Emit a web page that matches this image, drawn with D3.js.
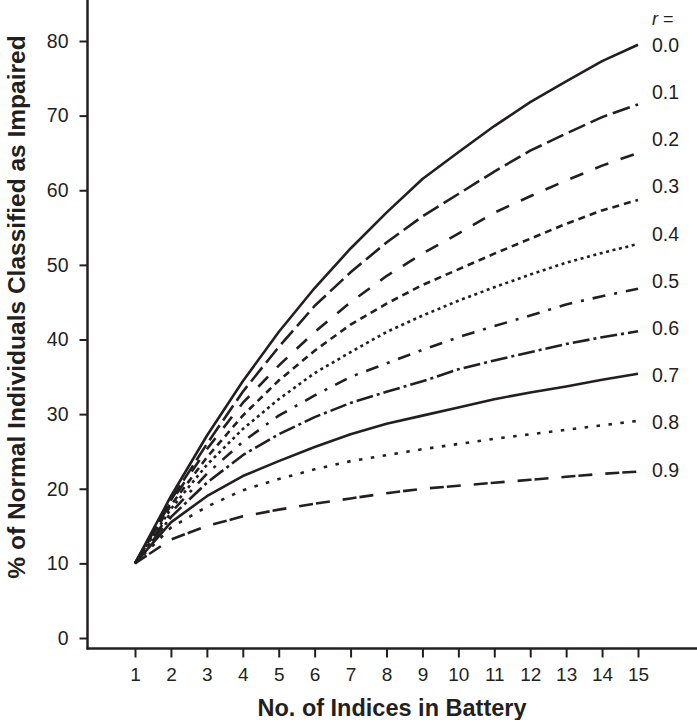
<!DOCTYPE html>
<html>
<head>
<meta charset="utf-8">
<script src="https://cdn.jsdelivr.net/npm/d3@7"></script>
<style>
  html, body { margin: 0; padding: 0; background: #fff; }
  svg { display: block; }
  text { font-family: "Liberation Sans", Arial, Helvetica, sans-serif; fill: #231f20; }
</style>
</head>
<body>
<svg id="chart" width="697" height="720"></svg>
<script>
// ---- data ----
const indices = [1, 2, 3, 4, 5, 6, 7, 8, 9, 10, 11, 12, 13, 14, 15];
const rLabels = ["0.0", "0.1", "0.2", "0.3", "0.4", "0.5", "0.6", "0.7", "0.8", "0.9"];
const r00 = [10, 19.0, 27.1, 34.4, 41.0, 46.9, 52.2, 57.0, 61.5, 65.1, 68.6, 71.8, 74.6, 77.3, 79.5];
const r01 = [10, 18.5, 26.0, 33.0, 39.0, 44.5, 49.0, 53.0, 56.5, 59.5, 62.5, 65.3, 67.6, 69.8, 71.5];
const r02 = [10, 18.2, 25.3, 31.5, 36.5, 41.0, 45.0, 48.5, 51.5, 54.2, 57.0, 59.2, 61.3, 63.3, 65.0];
const r03 = [10, 17.8, 24.2, 29.8, 34.5, 38.5, 42.0, 44.8, 47.3, 49.4, 51.5, 53.5, 55.5, 57.3, 58.7];
const r04 = [10, 17.3, 23.2, 28.0, 32.0, 35.5, 38.3, 41.0, 43.2, 45.2, 47.0, 48.7, 50.3, 51.6, 52.8];
const r05 = [10, 16.8, 22.0, 26.3, 29.8, 32.5, 35.0, 36.8, 38.6, 40.3, 41.8, 43.2, 44.7, 45.8, 46.8];
const r06 = [10, 16.2, 20.8, 24.5, 27.3, 29.6, 31.5, 33.0, 34.4, 36.0, 37.2, 38.3, 39.4, 40.3, 41.1];
const r07 = [10, 15.5, 19.0, 21.7, 23.7, 25.6, 27.3, 28.7, 29.8, 30.9, 32.0, 32.9, 33.7, 34.6, 35.4];
const r08 = [10, 14.8, 17.6, 19.8, 21.3, 22.6, 23.7, 24.5, 25.3, 26.0, 26.7, 27.3, 27.9, 28.5, 29.1];
const r09 = [10, 13.2, 15.0, 16.3, 17.2, 18.0, 18.7, 19.4, 20.0, 20.4, 20.8, 21.2, 21.6, 22.0, 22.3];
const seriesValues = [r00, r01, r02, r03, r04, r05, r06, r07, r08, r09];
const yTicks = [0, 10, 20, 30, 40, 50, 60, 70, 80];
const xTitle = "No. of Indices in Battery";
const yTitle = "% of Normal Individuals Classified as Impaired";

// ---- styles ----
const dashes = [
  null,
  "18,6",
  "14,13",
  "7,5",
  "3,3.6",
  "13,9,3,9",
  "17,4,3,4",
  null,
  "3.5,8.5",
  "14,3,14,13"
];
const ink = "#231f20";
const FONT = "Liberation Sans, Arial, sans-serif";

const svg = d3.select("#chart");
const x = d3.scaleLinear().domain([1, 15]).range([135, 638]);
const y = d3.scaleLinear().domain([0, 80]).range([638, 41]);

// axes
const yAxis = svg.append("g")
  .attr("transform", "translate(87.5,0)")
  .call(d3.axisLeft(y).tickValues(yTicks).tickSize(8).tickPadding(11).tickSizeOuter(0));
yAxis.select(".domain").remove();
yAxis.selectAll(".tick line").attr("stroke", ink).attr("stroke-width", 2);
yAxis.selectAll(".tick text").style("font-size", "19.5px").attr("fill", ink).style("font-family", FONT);

const xAxis = svg.append("g")
  .attr("transform", "translate(0,648.5)")
  .call(d3.axisBottom(x).tickValues(indices).tickSize(9).tickPadding(10).tickSizeOuter(0));
xAxis.select(".domain").remove();
xAxis.selectAll(".tick line").attr("stroke", ink).attr("stroke-width", 2);
xAxis.selectAll(".tick text").style("font-size", "19px").attr("fill", ink).style("font-family", FONT);

// axis lines
svg.append("line").attr("x1", 87.5).attr("x2", 87.5).attr("y1", 0).attr("y2", 649.5)
  .attr("stroke", ink).attr("stroke-width", 2.5);
svg.append("line").attr("x1", 86.5).attr("x2", 697).attr("y1", 648.5).attr("y2", 648.5)
  .attr("stroke", ink).attr("stroke-width", 2.5);

// lines
const line = d3.line().x((d, i) => x(indices[i])).y(d => y(d));
seriesValues.forEach((vals, k) => {
  svg.append("path")
    .datum(vals)
    .attr("d", line)
    .attr("fill", "none")
    .attr("stroke", ink)
    .attr("stroke-width", 2.6)
    .attr("stroke-linejoin", "round")
    .attr("stroke-dasharray", dashes[k]);
});

// right labels
const lab = svg.append("g");
lab.append("text").attr("x", 652).attr("y", 19).attr("dy", "0.35em").style("font-size", "18px")
  .html('<tspan font-style="italic">r</tspan> =');
rLabels.forEach((t, i) => {
  lab.append("text").attr("x", 652).attr("y", 45 + i * 47.2).attr("dy", "0.35em")
    .style("font-size", "19.5px").text(t);
});

// titles
svg.append("text").attr("x", 392).attr("y", 716)
  .attr("text-anchor", "middle").style("font-size", "23.5px").style("font-weight", "bold").text(xTitle);
svg.append("text").attr("transform", "translate(25,307) rotate(-90)")
  .attr("text-anchor", "middle").style("font-size", "24.5px").style("font-weight", "bold").text(yTitle);
</script>
</body>
</html>
